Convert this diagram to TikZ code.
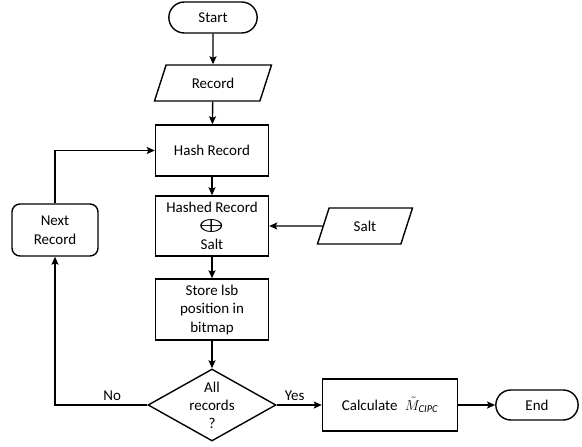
\documentclass[tikz,border=0pt]{standalone}
\usepackage{fontspec}
\setmainfont{Carlito}
\usetikzlibrary{shapes.geometric,shapes.misc,arrows.meta}
\tikzset{
  flow/.style={draw, line width=1.4pt, align=center, font=\fontsize{15}{18.5}\selectfont},
  terminal/.style={flow, rounded rectangle, minimum width=95pt, minimum height=31pt},
  io/.style={flow, trapezium, trapezium left angle=56, trapezium right angle=124,
    trapezium stretches body, minimum height=36pt},
  proc/.style={flow, rectangle, minimum width=113pt},
  decide/.style={flow, diamond, minimum width=128pt, minimum height=72pt},
  link/.style={-{Stealth[length=8pt,width=7pt,inset=1.5pt]}, line width=1.4pt},
  tag/.style={font=\fontsize{15}{18}\selectfont},
}
\begin{document}
\begin{tikzpicture}[x=1pt, y=-1pt]
  % 记录散列流程
  \useasboundingbox (0,0) rectangle (582,447);

  \node[terminal] (start) at (213,17.5) {Start};
  \node[io, minimum width=117pt] (record) at (213,83) {Record};
  \node[proc, minimum height=51pt] (hash) at (212,150.5) {Hash Record};
  \node[proc, minimum height=60pt] (hashed) at (212,226)
    {Hashed Record\\\smash{\scalebox{2.2}[1.3]{$\bigoplus$}}\\Salt};
  \node[io, minimum width=95pt] (salt) at (365,226) {Salt};
  \node[proc, minimum height=61pt] (store) at (212,309.5) {Store lsb\\position in\\bitmap};
  \node[decide] (all) at (212,405) {};
  \node[tag, align=center] (alltext) at (all) {All\\records\\?};
  \node[proc, minimum width=135pt, minimum height=52pt] (calc) at (390,405)
    {Calculate\enspace$\tilde{M}_{\mathit{CIPC}}$};
  \node[terminal, minimum width=89pt, minimum height=30pt] (end) at (537,405) {End};
  \node[flow, rounded corners=8pt, minimum width=86pt, minimum height=52pt] (next) at (55,230)
    {Next\\Record};

  \draw[link] (start) -- (record);
  \draw[link] (record) -- (hash);
  \draw[link] (hash) -- (hashed);
  \draw[link] (salt) -- (hashed);
  \draw[link] (hashed) -- (store);
  \draw[link] (store) -- (all);
  \draw[link] (all) -- node[tag, above, pos=0.4] {Yes} (calc);
  \draw[link] (calc) -- (end);
  \draw[link] (all.west) -| node[tag, above, pos=0.19] {No} (next);
  \draw[link] (next) |- (hash);
\end{tikzpicture}
\end{document}
